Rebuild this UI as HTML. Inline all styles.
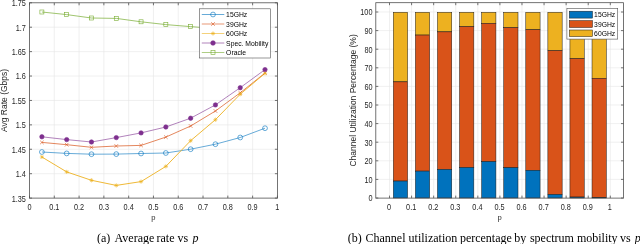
<!DOCTYPE html>
<html><head><meta charset="utf-8"><style>
html,body{margin:0;padding:0;background:#fff;width:640px;height:244px;overflow:hidden}
svg{display:block;filter:blur(0.35px)}
.t{font-family:"Liberation Sans",sans-serif;font-size:7.3px;fill:#262626}
.l{font-family:"Liberation Sans",sans-serif;font-size:8.5px;fill:#262626}
.g{font-family:"Liberation Sans",sans-serif;font-size:6.8px;fill:#000}
.c{font-family:"Liberation Serif",serif;font-size:12px;fill:#000}
</style></head><body>
<svg width="640" height="244" viewBox="0 0 640 244">
<rect width="640" height="244" fill="#fff"/>
<line x1="54.29" y1="2.8" x2="54.29" y2="198.1" stroke="#e6e6e6" stroke-width="0.6"/>
<line x1="79.08" y1="2.8" x2="79.08" y2="198.1" stroke="#e6e6e6" stroke-width="0.6"/>
<line x1="103.87" y1="2.8" x2="103.87" y2="198.1" stroke="#e6e6e6" stroke-width="0.6"/>
<line x1="128.66" y1="2.8" x2="128.66" y2="198.1" stroke="#e6e6e6" stroke-width="0.6"/>
<line x1="153.45" y1="2.8" x2="153.45" y2="198.1" stroke="#e6e6e6" stroke-width="0.6"/>
<line x1="178.24" y1="2.8" x2="178.24" y2="198.1" stroke="#e6e6e6" stroke-width="0.6"/>
<line x1="203.03" y1="2.8" x2="203.03" y2="198.1" stroke="#e6e6e6" stroke-width="0.6"/>
<line x1="227.82" y1="2.8" x2="227.82" y2="198.1" stroke="#e6e6e6" stroke-width="0.6"/>
<line x1="252.61" y1="2.8" x2="252.61" y2="198.1" stroke="#e6e6e6" stroke-width="0.6"/>
<line x1="29.5" y1="173.69" x2="277.4" y2="173.69" stroke="#e6e6e6" stroke-width="0.6"/>
<line x1="29.5" y1="149.27" x2="277.4" y2="149.27" stroke="#e6e6e6" stroke-width="0.6"/>
<line x1="29.5" y1="124.86" x2="277.4" y2="124.86" stroke="#e6e6e6" stroke-width="0.6"/>
<line x1="29.5" y1="100.45" x2="277.4" y2="100.45" stroke="#e6e6e6" stroke-width="0.6"/>
<line x1="29.5" y1="76.04" x2="277.4" y2="76.04" stroke="#e6e6e6" stroke-width="0.6"/>
<line x1="29.5" y1="51.62" x2="277.4" y2="51.62" stroke="#e6e6e6" stroke-width="0.6"/>
<line x1="29.5" y1="27.21" x2="277.4" y2="27.21" stroke="#e6e6e6" stroke-width="0.6"/>
<polyline points="41.89,152.00 66.69,153.40 91.47,154.20 116.27,154.10 141.06,153.50 165.84,153.00 190.64,149.20 215.43,144.20 240.22,137.50 265.00,128.20" fill="none" stroke="#0072BD" stroke-width="0.6"/>
<polyline points="41.89,142.40 66.69,144.70 91.47,147.30 116.27,146.00 141.06,145.40 165.84,137.10 190.64,126.00 215.43,111.00 240.22,92.80 265.00,73.00" fill="none" stroke="#D95319" stroke-width="0.7"/>
<polyline points="41.89,157.00 66.69,171.90 91.47,180.30 116.27,185.40 141.06,181.60 165.84,166.40 190.64,140.70 215.43,119.70 240.22,94.20 265.00,73.30" fill="none" stroke="#EDB120" stroke-width="0.9"/>
<polyline points="41.89,136.80 66.69,139.60 91.47,142.00 116.27,137.60 141.06,132.90 165.84,127.00 190.64,118.20 215.43,104.90 240.22,87.70 265.00,69.60" fill="none" stroke="#7E2F8E" stroke-width="0.6"/>
<polyline points="41.89,12.00 66.69,14.60 91.47,18.00 116.27,18.40 141.06,21.80 165.84,24.60 190.64,26.60 215.43,28.60 240.22,30.60 265.00,32.60" fill="none" stroke="#77AC30" stroke-width="0.7"/>
<circle cx="41.89" cy="152.00" r="2.4" fill="none" stroke="#0072BD" stroke-width="0.6"/>
<circle cx="66.69" cy="153.40" r="2.4" fill="none" stroke="#0072BD" stroke-width="0.6"/>
<circle cx="91.47" cy="154.20" r="2.4" fill="none" stroke="#0072BD" stroke-width="0.6"/>
<circle cx="116.27" cy="154.10" r="2.4" fill="none" stroke="#0072BD" stroke-width="0.6"/>
<circle cx="141.06" cy="153.50" r="2.4" fill="none" stroke="#0072BD" stroke-width="0.6"/>
<circle cx="165.84" cy="153.00" r="2.4" fill="none" stroke="#0072BD" stroke-width="0.6"/>
<circle cx="190.64" cy="149.20" r="2.4" fill="none" stroke="#0072BD" stroke-width="0.6"/>
<circle cx="215.43" cy="144.20" r="2.4" fill="none" stroke="#0072BD" stroke-width="0.6"/>
<circle cx="240.22" cy="137.50" r="2.4" fill="none" stroke="#0072BD" stroke-width="0.6"/>
<circle cx="265.00" cy="128.20" r="2.4" fill="none" stroke="#0072BD" stroke-width="0.6"/>
<path d="M40.09,140.60L43.69,144.20M40.09,144.20L43.69,140.60" stroke="#D95319" stroke-width="0.6"/>
<path d="M64.89,142.90L68.48,146.50M64.89,146.50L68.48,142.90" stroke="#D95319" stroke-width="0.6"/>
<path d="M89.67,145.50L93.27,149.10M89.67,149.10L93.27,145.50" stroke="#D95319" stroke-width="0.6"/>
<path d="M114.47,144.20L118.06,147.80M114.47,147.80L118.06,144.20" stroke="#D95319" stroke-width="0.6"/>
<path d="M139.25,143.60L142.86,147.20M139.25,147.20L142.86,143.60" stroke="#D95319" stroke-width="0.6"/>
<path d="M164.04,135.30L167.65,138.90M164.04,138.90L167.65,135.30" stroke="#D95319" stroke-width="0.6"/>
<path d="M188.84,124.20L192.44,127.80M188.84,127.80L192.44,124.20" stroke="#D95319" stroke-width="0.6"/>
<path d="M213.62,109.20L217.23,112.80M213.62,112.80L217.23,109.20" stroke="#D95319" stroke-width="0.6"/>
<path d="M238.41,91.00L242.02,94.60M238.41,94.60L242.02,91.00" stroke="#D95319" stroke-width="0.6"/>
<path d="M263.20,71.20L266.81,74.80M263.20,74.80L266.81,71.20" stroke="#D95319" stroke-width="0.6"/>
<path d="M39.79,157.00L43.99,157.00M41.89,154.90L41.89,159.10M40.38,155.49L43.41,158.51M40.38,158.51L43.41,155.49" stroke="#EDB120" stroke-width="0.6"/>
<path d="M64.59,171.90L68.78,171.90M66.69,169.80L66.69,174.00M65.17,170.39L68.20,173.41M65.17,173.41L68.20,170.39" stroke="#EDB120" stroke-width="0.6"/>
<path d="M89.38,180.30L93.57,180.30M91.47,178.20L91.47,182.40M89.96,178.79L92.99,181.81M89.96,181.81L92.99,178.79" stroke="#EDB120" stroke-width="0.6"/>
<path d="M114.17,185.40L118.36,185.40M116.27,183.30L116.27,187.50M114.75,183.89L117.78,186.91M114.75,186.91L117.78,183.89" stroke="#EDB120" stroke-width="0.6"/>
<path d="M138.96,181.60L143.16,181.60M141.06,179.50L141.06,183.70M139.54,180.09L142.57,183.11M139.54,183.11L142.57,180.09" stroke="#EDB120" stroke-width="0.6"/>
<path d="M163.75,166.40L167.94,166.40M165.84,164.30L165.84,168.50M164.33,164.89L167.36,167.91M164.33,167.91L167.36,164.89" stroke="#EDB120" stroke-width="0.6"/>
<path d="M188.54,140.70L192.74,140.70M190.64,138.60L190.64,142.80M189.12,139.19L192.15,142.21M189.12,142.21L192.15,139.19" stroke="#EDB120" stroke-width="0.6"/>
<path d="M213.33,119.70L217.53,119.70M215.43,117.60L215.43,121.80M213.91,118.19L216.94,121.21M213.91,121.21L216.94,118.19" stroke="#EDB120" stroke-width="0.6"/>
<path d="M238.12,94.20L242.31,94.20M240.22,92.10L240.22,96.30M238.70,92.69L241.73,95.71M238.70,95.71L241.73,92.69" stroke="#EDB120" stroke-width="0.6"/>
<path d="M262.90,73.30L267.11,73.30M265.00,71.20L265.00,75.40M263.49,71.79L266.52,74.81M263.49,74.81L266.52,71.79" stroke="#EDB120" stroke-width="0.6"/>
<circle cx="41.89" cy="136.80" r="2.2" fill="#7E2F8E" stroke="#7E2F8E" stroke-width="0.6"/>
<circle cx="66.69" cy="139.60" r="2.2" fill="#7E2F8E" stroke="#7E2F8E" stroke-width="0.6"/>
<circle cx="91.47" cy="142.00" r="2.2" fill="#7E2F8E" stroke="#7E2F8E" stroke-width="0.6"/>
<circle cx="116.27" cy="137.60" r="2.2" fill="#7E2F8E" stroke="#7E2F8E" stroke-width="0.6"/>
<circle cx="141.06" cy="132.90" r="2.2" fill="#7E2F8E" stroke="#7E2F8E" stroke-width="0.6"/>
<circle cx="165.84" cy="127.00" r="2.2" fill="#7E2F8E" stroke="#7E2F8E" stroke-width="0.6"/>
<circle cx="190.64" cy="118.20" r="2.2" fill="#7E2F8E" stroke="#7E2F8E" stroke-width="0.6"/>
<circle cx="215.43" cy="104.90" r="2.2" fill="#7E2F8E" stroke="#7E2F8E" stroke-width="0.6"/>
<circle cx="240.22" cy="87.70" r="2.2" fill="#7E2F8E" stroke="#7E2F8E" stroke-width="0.6"/>
<circle cx="265.00" cy="69.60" r="2.2" fill="#7E2F8E" stroke="#7E2F8E" stroke-width="0.6"/>
<rect x="39.89" y="10.00" width="4.00" height="4.00" fill="none" stroke="#77AC30" stroke-width="0.6"/>
<rect x="64.69" y="12.60" width="4.00" height="4.00" fill="none" stroke="#77AC30" stroke-width="0.6"/>
<rect x="89.47" y="16.00" width="4.00" height="4.00" fill="none" stroke="#77AC30" stroke-width="0.6"/>
<rect x="114.27" y="16.40" width="4.00" height="4.00" fill="none" stroke="#77AC30" stroke-width="0.6"/>
<rect x="139.06" y="19.80" width="4.00" height="4.00" fill="none" stroke="#77AC30" stroke-width="0.6"/>
<rect x="163.84" y="22.60" width="4.00" height="4.00" fill="none" stroke="#77AC30" stroke-width="0.6"/>
<rect x="188.64" y="24.60" width="4.00" height="4.00" fill="none" stroke="#77AC30" stroke-width="0.6"/>
<rect x="213.43" y="26.60" width="4.00" height="4.00" fill="none" stroke="#77AC30" stroke-width="0.6"/>
<rect x="238.22" y="28.60" width="4.00" height="4.00" fill="none" stroke="#77AC30" stroke-width="0.6"/>
<rect x="263.00" y="30.60" width="4.00" height="4.00" fill="none" stroke="#77AC30" stroke-width="0.6"/>
<rect x="29.5" y="2.8" width="247.90" height="195.30" fill="none" stroke="#505050" stroke-width="0.8"/>
<path d="M29.50,198.1v-2.5M29.50,2.8v2.5M54.29,198.1v-2.5M54.29,2.8v2.5M79.08,198.1v-2.5M79.08,2.8v2.5M103.87,198.1v-2.5M103.87,2.8v2.5M128.66,198.1v-2.5M128.66,2.8v2.5M153.45,198.1v-2.5M153.45,2.8v2.5M178.24,198.1v-2.5M178.24,2.8v2.5M203.03,198.1v-2.5M203.03,2.8v2.5M227.82,198.1v-2.5M227.82,2.8v2.5M252.61,198.1v-2.5M252.61,2.8v2.5M277.40,198.1v-2.5M277.40,2.8v2.5M29.5,198.10h2.5M277.4,198.10h-2.5M29.5,173.69h2.5M277.4,173.69h-2.5M29.5,149.27h2.5M277.4,149.27h-2.5M29.5,124.86h2.5M277.4,124.86h-2.5M29.5,100.45h2.5M277.4,100.45h-2.5M29.5,76.04h2.5M277.4,76.04h-2.5M29.5,51.62h2.5M277.4,51.62h-2.5M29.5,27.21h2.5M277.4,27.21h-2.5M29.5,2.80h2.5M277.4,2.80h-2.5" stroke="#505050" stroke-width="0.8"/>
<text transform="translate(25.90,201.55) scale(1,1.12)" text-anchor="end" class="t">1.35</text>
<text transform="translate(25.90,177.14) scale(1,1.12)" text-anchor="end" class="t">1.4</text>
<text transform="translate(25.90,152.72) scale(1,1.12)" text-anchor="end" class="t">1.45</text>
<text transform="translate(25.90,128.31) scale(1,1.12)" text-anchor="end" class="t">1.5</text>
<text transform="translate(25.90,103.90) scale(1,1.12)" text-anchor="end" class="t">1.55</text>
<text transform="translate(25.90,79.49) scale(1,1.12)" text-anchor="end" class="t">1.6</text>
<text transform="translate(25.90,55.08) scale(1,1.12)" text-anchor="end" class="t">1.65</text>
<text transform="translate(25.90,30.66) scale(1,1.12)" text-anchor="end" class="t">1.7</text>
<text transform="translate(25.90,6.25) scale(1,1.12)" text-anchor="end" class="t">1.75</text>
<text transform="translate(29.50,209.60) scale(1,1.12)" text-anchor="middle" class="t">0</text>
<text transform="translate(54.29,209.60) scale(1,1.12)" text-anchor="middle" class="t">0.1</text>
<text transform="translate(79.08,209.60) scale(1,1.12)" text-anchor="middle" class="t">0.2</text>
<text transform="translate(103.87,209.60) scale(1,1.12)" text-anchor="middle" class="t">0.3</text>
<text transform="translate(128.66,209.60) scale(1,1.12)" text-anchor="middle" class="t">0.4</text>
<text transform="translate(153.45,209.60) scale(1,1.12)" text-anchor="middle" class="t">0.5</text>
<text transform="translate(178.24,209.60) scale(1,1.12)" text-anchor="middle" class="t">0.6</text>
<text transform="translate(203.03,209.60) scale(1,1.12)" text-anchor="middle" class="t">0.7</text>
<text transform="translate(227.82,209.60) scale(1,1.12)" text-anchor="middle" class="t">0.8</text>
<text transform="translate(252.61,209.60) scale(1,1.12)" text-anchor="middle" class="t">0.9</text>
<text transform="translate(277.40,209.60) scale(1,1.12)" text-anchor="middle" class="t">1</text>
<text x="153.45" y="220.1" text-anchor="middle" class="l" style="font-size:7.6px">p</text>
<text transform="translate(7.0,100.45) rotate(-90)" text-anchor="middle" class="l">Avg Rate (Gbps)</text>
<rect x="199.5" y="8.8" width="71" height="49.2" fill="#fff" stroke="#505050" stroke-width="0.6"/>
<line x1="201.8" y1="14.5" x2="224.3" y2="14.5" stroke="#0072BD" stroke-width="0.6"/>
<circle cx="213.00" cy="14.50" r="2.4" fill="none" stroke="#0072BD" stroke-width="0.6"/>
<text transform="translate(226.10,17.25) scale(1,1.06)" text-anchor="start" class="g">15GHz</text>
<line x1="201.8" y1="24.0" x2="224.3" y2="24.0" stroke="#D95319" stroke-width="0.6"/>
<path d="M211.20,22.20L214.80,25.80M211.20,25.80L214.80,22.20" stroke="#D95319" stroke-width="0.6"/>
<text transform="translate(226.10,26.75) scale(1,1.06)" text-anchor="start" class="g">39GHz</text>
<line x1="201.8" y1="33.5" x2="224.3" y2="33.5" stroke="#EDB120" stroke-width="0.6"/>
<path d="M210.90,33.50L215.10,33.50M213.00,31.40L213.00,35.60M211.49,31.99L214.51,35.01M211.49,35.01L214.51,31.99" stroke="#EDB120" stroke-width="0.6"/>
<text transform="translate(226.10,36.25) scale(1,1.06)" text-anchor="start" class="g">60GHz</text>
<line x1="201.8" y1="43.0" x2="224.3" y2="43.0" stroke="#7E2F8E" stroke-width="0.6"/>
<circle cx="213.00" cy="43.00" r="2.3" fill="#7E2F8E" stroke="#7E2F8E" stroke-width="0.6"/>
<text transform="translate(226.10,45.75) scale(1,1.06)" text-anchor="start" class="g">Spec. Mobility</text>
<line x1="201.8" y1="52.5" x2="224.3" y2="52.5" stroke="#77AC30" stroke-width="0.6"/>
<rect x="211.00" y="50.50" width="4.00" height="4.00" fill="none" stroke="#77AC30" stroke-width="0.6"/>
<text transform="translate(226.10,55.25) scale(1,1.06)" text-anchor="start" class="g">Oracle</text>
<line x1="389.50" y1="2.7" x2="389.50" y2="198.1" stroke="#e6e6e6" stroke-width="0.6"/>
<line x1="411.58" y1="2.7" x2="411.58" y2="198.1" stroke="#e6e6e6" stroke-width="0.6"/>
<line x1="433.66" y1="2.7" x2="433.66" y2="198.1" stroke="#e6e6e6" stroke-width="0.6"/>
<line x1="455.74" y1="2.7" x2="455.74" y2="198.1" stroke="#e6e6e6" stroke-width="0.6"/>
<line x1="477.82" y1="2.7" x2="477.82" y2="198.1" stroke="#e6e6e6" stroke-width="0.6"/>
<line x1="499.90" y1="2.7" x2="499.90" y2="198.1" stroke="#e6e6e6" stroke-width="0.6"/>
<line x1="521.98" y1="2.7" x2="521.98" y2="198.1" stroke="#e6e6e6" stroke-width="0.6"/>
<line x1="544.06" y1="2.7" x2="544.06" y2="198.1" stroke="#e6e6e6" stroke-width="0.6"/>
<line x1="566.14" y1="2.7" x2="566.14" y2="198.1" stroke="#e6e6e6" stroke-width="0.6"/>
<line x1="588.22" y1="2.7" x2="588.22" y2="198.1" stroke="#e6e6e6" stroke-width="0.6"/>
<line x1="610.30" y1="2.7" x2="610.30" y2="198.1" stroke="#e6e6e6" stroke-width="0.6"/>
<line x1="375.8" y1="179.40" x2="623.5" y2="179.40" stroke="#e6e6e6" stroke-width="0.6"/>
<line x1="375.8" y1="160.80" x2="623.5" y2="160.80" stroke="#e6e6e6" stroke-width="0.6"/>
<line x1="375.8" y1="142.20" x2="623.5" y2="142.20" stroke="#e6e6e6" stroke-width="0.6"/>
<line x1="375.8" y1="123.60" x2="623.5" y2="123.60" stroke="#e6e6e6" stroke-width="0.6"/>
<line x1="375.8" y1="105.00" x2="623.5" y2="105.00" stroke="#e6e6e6" stroke-width="0.6"/>
<line x1="375.8" y1="86.40" x2="623.5" y2="86.40" stroke="#e6e6e6" stroke-width="0.6"/>
<line x1="375.8" y1="67.80" x2="623.5" y2="67.80" stroke="#e6e6e6" stroke-width="0.6"/>
<line x1="375.8" y1="49.20" x2="623.5" y2="49.20" stroke="#e6e6e6" stroke-width="0.6"/>
<line x1="375.8" y1="30.60" x2="623.5" y2="30.60" stroke="#e6e6e6" stroke-width="0.6"/>
<line x1="375.8" y1="12.00" x2="623.5" y2="12.00" stroke="#e6e6e6" stroke-width="0.6"/>
<rect x="393.30" y="12.25" width="14.3" height="69.60" fill="#EDB120" stroke="#1a1a1a" stroke-width="0.5"/>
<rect x="393.30" y="81.85" width="14.3" height="99.20" fill="#D95319" stroke="#1a1a1a" stroke-width="0.5"/>
<rect x="393.30" y="181.05" width="14.3" height="16.95" fill="#0072BD" stroke="#1a1a1a" stroke-width="0.5"/>
<rect x="415.38" y="12.25" width="14.3" height="22.80" fill="#EDB120" stroke="#1a1a1a" stroke-width="0.5"/>
<rect x="415.38" y="35.05" width="14.3" height="136.05" fill="#D95319" stroke="#1a1a1a" stroke-width="0.5"/>
<rect x="415.38" y="171.10" width="14.3" height="26.90" fill="#0072BD" stroke="#1a1a1a" stroke-width="0.5"/>
<rect x="437.46" y="12.25" width="14.3" height="19.60" fill="#EDB120" stroke="#1a1a1a" stroke-width="0.5"/>
<rect x="437.46" y="31.85" width="14.3" height="137.60" fill="#D95319" stroke="#1a1a1a" stroke-width="0.5"/>
<rect x="437.46" y="169.45" width="14.3" height="28.55" fill="#0072BD" stroke="#1a1a1a" stroke-width="0.5"/>
<rect x="459.54" y="12.25" width="14.3" height="14.40" fill="#EDB120" stroke="#1a1a1a" stroke-width="0.5"/>
<rect x="459.54" y="26.65" width="14.3" height="140.90" fill="#D95319" stroke="#1a1a1a" stroke-width="0.5"/>
<rect x="459.54" y="167.55" width="14.3" height="30.45" fill="#0072BD" stroke="#1a1a1a" stroke-width="0.5"/>
<rect x="481.62" y="12.25" width="14.3" height="11.10" fill="#EDB120" stroke="#1a1a1a" stroke-width="0.5"/>
<rect x="481.62" y="23.35" width="14.3" height="138.30" fill="#D95319" stroke="#1a1a1a" stroke-width="0.5"/>
<rect x="481.62" y="161.65" width="14.3" height="36.35" fill="#0072BD" stroke="#1a1a1a" stroke-width="0.5"/>
<rect x="503.70" y="12.25" width="14.3" height="15.40" fill="#EDB120" stroke="#1a1a1a" stroke-width="0.5"/>
<rect x="503.70" y="27.65" width="14.3" height="140.10" fill="#D95319" stroke="#1a1a1a" stroke-width="0.5"/>
<rect x="503.70" y="167.75" width="14.3" height="30.25" fill="#0072BD" stroke="#1a1a1a" stroke-width="0.5"/>
<rect x="525.78" y="12.25" width="14.3" height="17.50" fill="#EDB120" stroke="#1a1a1a" stroke-width="0.5"/>
<rect x="525.78" y="29.75" width="14.3" height="140.50" fill="#D95319" stroke="#1a1a1a" stroke-width="0.5"/>
<rect x="525.78" y="170.25" width="14.3" height="27.75" fill="#0072BD" stroke="#1a1a1a" stroke-width="0.5"/>
<rect x="547.86" y="12.25" width="14.3" height="38.40" fill="#EDB120" stroke="#1a1a1a" stroke-width="0.5"/>
<rect x="547.86" y="50.65" width="14.3" height="143.90" fill="#D95319" stroke="#1a1a1a" stroke-width="0.5"/>
<rect x="547.86" y="194.55" width="14.3" height="3.45" fill="#0072BD" stroke="#1a1a1a" stroke-width="0.5"/>
<rect x="569.94" y="12.25" width="14.3" height="46.40" fill="#EDB120" stroke="#1a1a1a" stroke-width="0.5"/>
<rect x="569.94" y="58.65" width="14.3" height="138.40" fill="#D95319" stroke="#1a1a1a" stroke-width="0.5"/>
<rect x="569.94" y="197.05" width="14.3" height="0.95" fill="#0072BD" stroke="#1a1a1a" stroke-width="0.5"/>
<rect x="592.02" y="12.25" width="14.3" height="66.00" fill="#EDB120" stroke="#1a1a1a" stroke-width="0.5"/>
<rect x="592.02" y="78.25" width="14.3" height="119.40" fill="#D95319" stroke="#1a1a1a" stroke-width="0.5"/>
<rect x="592.02" y="197.65" width="14.3" height="0.35" fill="#0072BD" stroke="#1a1a1a" stroke-width="0.5"/>
<rect x="375.8" y="2.7" width="247.70" height="195.40" fill="none" stroke="#505050" stroke-width="0.8"/>
<path d="M389.50,198.1v-2.5M389.50,2.7v2.5M411.58,198.1v-2.5M411.58,2.7v2.5M433.66,198.1v-2.5M433.66,2.7v2.5M455.74,198.1v-2.5M455.74,2.7v2.5M477.82,198.1v-2.5M477.82,2.7v2.5M499.90,198.1v-2.5M499.90,2.7v2.5M521.98,198.1v-2.5M521.98,2.7v2.5M544.06,198.1v-2.5M544.06,2.7v2.5M566.14,198.1v-2.5M566.14,2.7v2.5M588.22,198.1v-2.5M588.22,2.7v2.5M610.30,198.1v-2.5M610.30,2.7v2.5M375.8,198.00h2.5M623.5,198.00h-2.5M375.8,179.40h2.5M623.5,179.40h-2.5M375.8,160.80h2.5M623.5,160.80h-2.5M375.8,142.20h2.5M623.5,142.20h-2.5M375.8,123.60h2.5M623.5,123.60h-2.5M375.8,105.00h2.5M623.5,105.00h-2.5M375.8,86.40h2.5M623.5,86.40h-2.5M375.8,67.80h2.5M623.5,67.80h-2.5M375.8,49.20h2.5M623.5,49.20h-2.5M375.8,30.60h2.5M623.5,30.60h-2.5M375.8,12.00h2.5M623.5,12.00h-2.5" stroke="#505050" stroke-width="0.8"/>
<text transform="translate(372.50,201.35) scale(1,1.12)" text-anchor="end" class="t">0</text>
<text transform="translate(372.50,182.75) scale(1,1.12)" text-anchor="end" class="t">10</text>
<text transform="translate(372.50,164.15) scale(1,1.12)" text-anchor="end" class="t">20</text>
<text transform="translate(372.50,145.55) scale(1,1.12)" text-anchor="end" class="t">30</text>
<text transform="translate(372.50,126.95) scale(1,1.12)" text-anchor="end" class="t">40</text>
<text transform="translate(372.50,108.35) scale(1,1.12)" text-anchor="end" class="t">50</text>
<text transform="translate(372.50,89.75) scale(1,1.12)" text-anchor="end" class="t">60</text>
<text transform="translate(372.50,71.15) scale(1,1.12)" text-anchor="end" class="t">70</text>
<text transform="translate(372.50,52.55) scale(1,1.12)" text-anchor="end" class="t">80</text>
<text transform="translate(372.50,33.95) scale(1,1.12)" text-anchor="end" class="t">90</text>
<text transform="translate(372.50,15.35) scale(1,1.12)" text-anchor="end" class="t">100</text>
<text transform="translate(389.10,209.60) scale(1,1.12)" text-anchor="middle" class="t">0</text>
<text transform="translate(411.18,209.60) scale(1,1.12)" text-anchor="middle" class="t">0.1</text>
<text transform="translate(433.26,209.60) scale(1,1.12)" text-anchor="middle" class="t">0.2</text>
<text transform="translate(455.34,209.60) scale(1,1.12)" text-anchor="middle" class="t">0.3</text>
<text transform="translate(477.42,209.60) scale(1,1.12)" text-anchor="middle" class="t">0.4</text>
<text transform="translate(499.50,209.60) scale(1,1.12)" text-anchor="middle" class="t">0.5</text>
<text transform="translate(521.58,209.60) scale(1,1.12)" text-anchor="middle" class="t">0.6</text>
<text transform="translate(543.66,209.60) scale(1,1.12)" text-anchor="middle" class="t">0.7</text>
<text transform="translate(565.74,209.60) scale(1,1.12)" text-anchor="middle" class="t">0.8</text>
<text transform="translate(587.82,209.60) scale(1,1.12)" text-anchor="middle" class="t">0.9</text>
<text transform="translate(609.90,209.60) scale(1,1.12)" text-anchor="middle" class="t">1</text>
<text x="499.65" y="220.1" text-anchor="middle" class="l" style="font-size:7.6px">p</text>
<text transform="translate(356.0,100.40) rotate(-90)" text-anchor="middle" class="l">Channel Utilization Percentage (%)</text>
<rect x="566.9" y="8.3" width="50.8" height="30.8" fill="#fff" stroke="#505050" stroke-width="0.6"/>
<rect x="569.3" y="11.2" width="23.2" height="6.90" fill="#0072BD" stroke="#1a1a1a" stroke-width="0.5"/>
<text transform="translate(594.10,17.40) scale(1,1.06)" text-anchor="start" class="g">15GHz</text>
<rect x="569.3" y="20.6" width="23.2" height="6.90" fill="#D95319" stroke="#1a1a1a" stroke-width="0.5"/>
<text transform="translate(594.10,26.80) scale(1,1.06)" text-anchor="start" class="g">39GHz</text>
<rect x="569.3" y="30.0" width="23.2" height="6.60" fill="#EDB120" stroke="#1a1a1a" stroke-width="0.5"/>
<text transform="translate(594.10,36.05) scale(1,1.06)" text-anchor="start" class="g">60GHz</text>
<text x="97.0" y="241.6" class="c">(a)</text>
<text x="114.6" y="241.6" class="c">Average</text>
<text x="156.5" y="241.6" class="c">rate</text>
<text x="177.6" y="241.6" class="c">vs</text>
<text x="347.7" y="241.6" class="c">(b)</text>
<text x="365.5" y="241.6" class="c">Channel</text>
<text x="408.6" y="241.6" class="c">utilization</text>
<text x="459.9" y="241.6" class="c">percentage</text>
<text x="514.3" y="241.6" class="c">by</text>
<text x="529.9" y="241.6" class="c">spectrum</text>
<text x="576.9" y="241.6" class="c">mobility</text>
<text x="619.9" y="241.6" class="c">vs</text>
<text x="192.5" y="241.6" class="c" font-style="italic">p</text>
<text x="634.8" y="241.6" class="c" font-style="italic">p</text>
</svg></body></html>
